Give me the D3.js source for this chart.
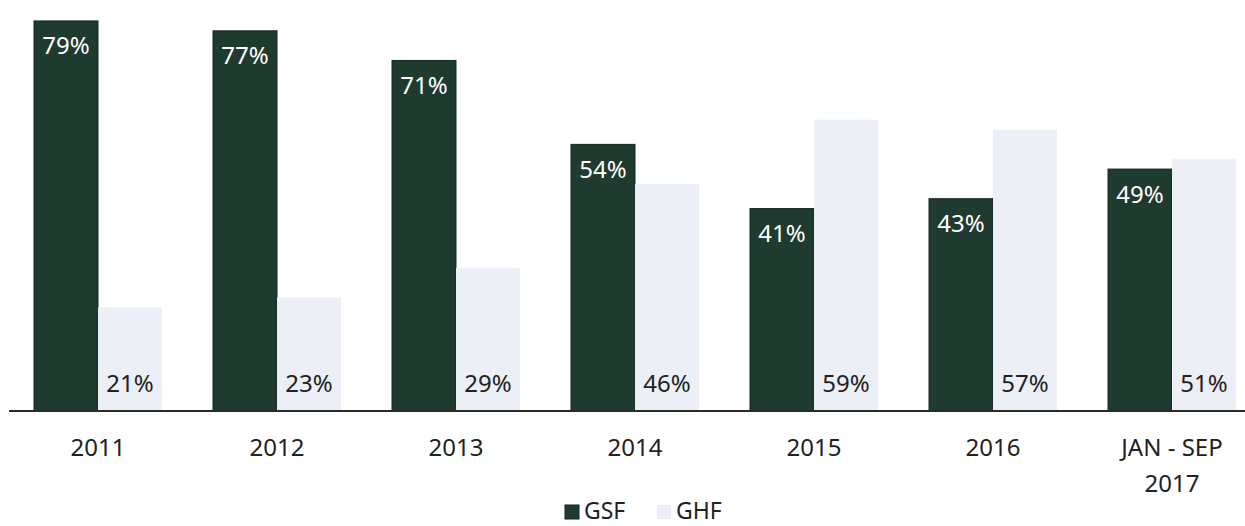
<!DOCTYPE html>
<html>
<head>
<meta charset="utf-8">
<script src="https://cdn.jsdelivr.net/npm/d3@7"></script>
<style>
  html, body { margin: 0; padding: 0; background: #fff; }
  svg { display: block; }
  text { font-family: "Noto Sans", "DejaVu Sans", sans-serif; }
</style>
</head>
<body>
<svg id="chart" width="1245" height="526"></svg>
<script>
const categories = ["2011", "2012", "2013", "2014", "2015", "2016", "JAN - SEP\n2017"];
const seriesNames = ["GSF", "GHF"];
const gsfValues = [79, 77, 71, 54, 41, 43, 49];
const ghfValues = [21, 23, 29, 46, 59, 57, 51];
const colors = { GSF: "#1f3a2f", GHF: "#eceff6" };

const data = categories.map((c, i) => ({ cat: c, GSF: gsfValues[i], GHF: ghfValues[i] }));

const W = 1245, H = 526;
const svg = d3.select("#chart");

const x0 = d3.scaleBand().domain(categories).range([8.5, 1261.5]).paddingInner(0.285).paddingOuter(0.1425);
const x1 = d3.scaleBand().domain(seriesNames).range([0, x0.bandwidth()]).padding(0);
const y = d3.scaleLinear().domain([0, 80]).range([411, 16]);

const groups = svg.append("g").selectAll("g").data(data).join("g")
  .attr("transform", d => `translate(${x0(d.cat)},0)`);

groups.selectAll("rect").data(d => seriesNames.map(k => ({ key: k, value: d[k] }))).join("rect")
  .attr("x", d => x1(d.key))
  .attr("y", d => y(d.value))
  .attr("width", x1.bandwidth())
  .attr("height", d => y(0) - y(d.value))
  .attr("fill", d => colors[d.key])
  .attr("stroke", d => d.key === "GSF" ? "#14271f" : "none")
  .attr("stroke-width", 1);

// GSF labels (white, near top)
groups.append("text")
  .attr("x", x1("GSF") + x1.bandwidth() / 2)
  .attr("y", d => y(d.GSF) + 27)
  .attr("text-anchor", "middle")
  .attr("dominant-baseline", "middle")
  .attr("fill", "#ffffff")
  .attr("font-size", 24)
  .text(d => d.GSF + "%");

// GHF labels (dark, near bottom)
groups.append("text")
  .attr("x", x1("GHF") + x1.bandwidth() / 2)
  .attr("y", y(0) - 25)
  .attr("text-anchor", "middle")
  .attr("dominant-baseline", "middle")
  .attr("fill", "#222")
  .attr("font-size", 24)
  .text(d => d.GHF + "%");

// x axis
const xAxis = d3.axisBottom(x0).tickSize(0).tickPadding(0).tickFormat("");
const axisG = svg.append("g").attr("transform", `translate(0,${y(0)})`).call(xAxis);
axisG.select(".domain").attr("stroke", "#2a2a2a").attr("stroke-width", 2).attr("d", `M9,0H${W}`);

axisG.selectAll(".tick").each(function(d) {
  const lines = d.split("\n");
  const t = d3.select(this).append("text")
    .attr("fill", "#222")
    .attr("font-size", 24)
    .attr("text-anchor", "middle");
  lines.forEach((ln, i) => {
    t.append("tspan").attr("x", 0).attr("y", 45 + i * 36).text(ln);
  });
});

// legend
const legend = svg.append("g").attr("transform", "translate(565,0)");
const lx = [0, 92];
seriesNames.forEach((s, i) => {
  legend.append("rect").attr("x", lx[i]).attr("y", 505).attr("width", 14).attr("height", 14)
    .attr("fill", colors[s]).attr("stroke", s === "GSF" ? "#14271f" : "none");
  legend.append("text").attr("x", lx[i] + 19).attr("y", 519)
    .attr("font-size", 23).attr("fill", "#222").text(s);
});
</script>
</body>
</html>
